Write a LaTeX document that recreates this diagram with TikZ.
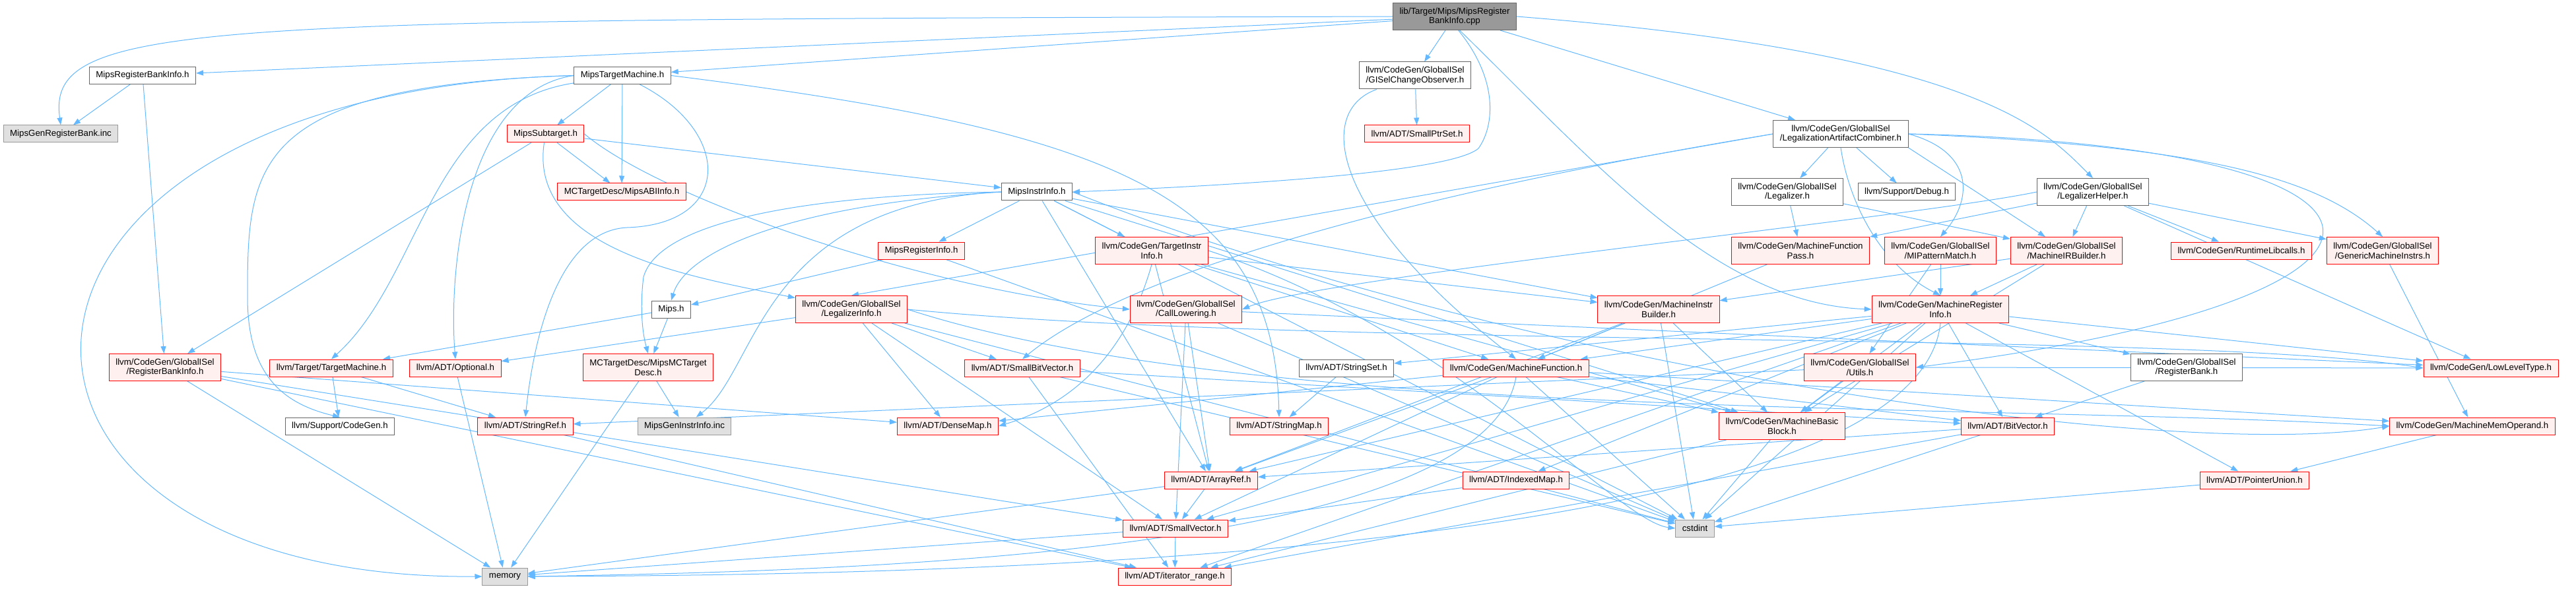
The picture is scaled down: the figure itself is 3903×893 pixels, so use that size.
\documentclass[tikz,border=0pt]{standalone}
\usepackage{fontspec}
\setmainfont{Liberation Sans}
\usetikzlibrary{arrows.meta,backgrounds}
\definecolor{cEdge}{HTML}{63B8FF}
\definecolor{cRed}{HTML}{FF0000}
\definecolor{cRedFill}{HTML}{FFF0F0}
\definecolor{cGray}{HTML}{999999}
\definecolor{cGrayFill}{HTML}{E0E0E0}
\definecolor{cDark}{HTML}{666666}
\tikzset{
  basebox/.style={rectangle,draw,line width=1pt,align=center,
                  font=\fontsize{13.3}{14.7}\selectfont,inner xsep=10pt,
                  inner ysep=3pt,minimum height=26pt},
  twoline/.style={minimum height=41pt},
  rootnode/.style={basebox,fill=cGray,draw=cDark},
  whitenode/.style={basebox,fill=white,draw=cDark},
  rednode/.style={basebox,fill=cRedFill,draw=cRed},
  sysnode/.style={basebox,fill=cGrayFill,draw=cGray},
  arr/.style={-{Triangle[length=11pt,width=8pt]},color=cEdge,line width=1pt}
}
\begin{document}
\begin{tikzpicture}[x=1pt,y=-1pt]
  \useasboundingbox (0,0) rectangle (3903,893);

  \node[rootnode,twoline] (root) at (2204,25) {lib/Target/Mips/MipsRegister\\BankInfo.cpp};

  \node[whitenode] (mrbih) at (216,114.5) {MipsRegisterBankInfo.h};
  \node[whitenode] (mtm) at (943,114.5) {MipsTargetMachine.h};
  \node[whitenode,twoline] (gcobs) at (2144,114.5) {llvm/CodeGen/GlobalISel\\/GISelChangeObserver.h};

  \node[sysnode] (mgrb) at (92,203) {MipsGenRegisterBank.inc};
  \node[rednode] (msub) at (826.5,203) {MipsSubtarget.h};
  \node[rednode] (sptr) at (2147,203) {llvm/ADT/SmallPtrSet.h};
  \node[whitenode,twoline] (lac) at (2789,203) {llvm/CodeGen/GlobalISel\\/LegalizationArtifactCombiner.h};

  \node[rednode] (abi) at (942,291) {MCTargetDesc/MipsABIInfo.h};
  \node[whitenode] (minstr) at (1571,291) {MipsInstrInfo.h};
  \node[whitenode,twoline] (legal) at (2708,291) {llvm/CodeGen/GlobalISel\\/Legalizer.h};
  \node[whitenode] (debug) at (2889,291) {llvm/Support/Debug.h};
  \node[whitenode,twoline] (lhelp) at (3171,291) {llvm/CodeGen/GlobalISel\\/LegalizerHelper.h};

  \node[rednode] (mreg) at (1396,380) {MipsRegisterInfo.h};
  \node[rednode,twoline] (tii) at (1745,380) {llvm/CodeGen/TargetInstr\\Info.h};
  \node[rednode,twoline] (mfp) at (2728,380) {llvm/CodeGen/MachineFunction\\Pass.h};
  \node[rednode,twoline] (mipm) at (2940,380) {llvm/CodeGen/GlobalISel\\/MIPatternMatch.h};
  \node[rednode,twoline] (mirb) at (3131,380) {llvm/CodeGen/GlobalISel\\/MachineIRBuilder.h};
  \node[rednode] (rtlib) at (3396,380) {llvm/CodeGen/RuntimeLibcalls.h};
  \node[rednode,twoline] (gmi) at (3610,380) {llvm/CodeGen/GlobalISel\\/GenericMachineInstrs.h};

  \node[whitenode] (mips) at (1017,469) {Mips.h};
  \node[rednode,twoline] (linfo) at (1290,469) {llvm/CodeGen/GlobalISel\\/LegalizerInfo.h};
  \node[rednode,twoline] (callow) at (1797,469) {llvm/CodeGen/GlobalISel\\/CallLowering.h};
  \node[rednode,twoline] (mib) at (2513,469) {llvm/CodeGen/MachineInstr\\Builder.h};
  \node[rednode,twoline] (mri) at (2940,469) {llvm/CodeGen/MachineRegister\\Info.h};

  \node[rednode,twoline] (rbi) at (250,557) {llvm/CodeGen/GlobalISel\\/RegisterBankInfo.h};
  \node[rednode] (tm) at (502,558) {llvm/Target/TargetMachine.h};
  \node[rednode] (opt) at (690,558) {llvm/ADT/Optional.h};
  \node[rednode,twoline] (mcdesc) at (982,557) {MCTargetDesc/MipsMCTarget\\Desc.h};
  \node[rednode] (sbv) at (1549,558) {llvm/ADT/SmallBitVector.h};
  \node[whitenode] (sset) at (2040,558) {llvm/ADT/StringSet.h};
  \node[rednode] (mf) at (2297,558) {llvm/CodeGen/MachineFunction.h};
  \node[rednode,twoline] (utils) at (2818,557) {llvm/CodeGen/GlobalISel\\/Utils.h};
  \node[whitenode,twoline] (rbank) at (3313,557) {llvm/CodeGen/GlobalISel\\/RegisterBank.h};
  \node[rednode] (llt) at (3774,558) {llvm/CodeGen/LowLevelType.h};

  \node[whitenode] (cgen) at (515,646) {llvm/Support/CodeGen.h};
  \node[rednode] (sref) at (796,646) {llvm/ADT/StringRef.h};
  \node[sysnode] (mgii) at (1037,646) {MipsGenInstrInfo.inc};
  \node[rednode] (dmap) at (1436,646) {llvm/ADT/DenseMap.h};
  \node[rednode] (smap) at (1938,646) {llvm/ADT/StringMap.h};
  \node[rednode,twoline] (mbb) at (2700,646) {llvm/CodeGen/MachineBasic\\Block.h};
  \node[rednode] (bitv) at (3042,646) {llvm/ADT/BitVector.h};
  \node[rednode] (mmo) at (3746,646) {llvm/CodeGen/MachineMemOperand.h};

  \node[rednode] (aref) at (1835,728) {llvm/ADT/ArrayRef.h};
  \node[rednode] (imap) at (2297,728) {llvm/ADT/IndexedMap.h};
  \node[rednode] (punion) at (3416,728) {llvm/ADT/PointerUnion.h};

  \node[rednode] (svec) at (1781,801) {llvm/ADT/SmallVector.h};
  \node[sysnode] (cstd) at (2568,801) {cstdint};

  \node[sysnode] (mem) at (765,874) {memory};
  \node[rednode] (irange) at (1780,874) {llvm/ADT/iterator\_range.h};

  \begin{scope}[on background layer]
    \path[arr] (root) edge (mrbih) edge (mtm) edge (gcobs) edge (lac);
    \draw[arr] (root.west) .. controls (300,30) and (70,30) .. (mgrb.north);
    \draw[arr] (root.-75) .. controls (2270,120) and (2265,190) .. (2240,225)
               .. controls (2200,260) and (1900,280) .. (minstr.east);
    \draw[arr] (root.east) .. controls (3000,80) and (3100,200) .. (lhelp.north);
    \draw[arr] (root.-70) .. controls (2420,250) and (2600,460) .. (mri.west);
    \path[arr] (mrbih) edge (mgrb) edge (rbi);
    \path[arr] (mtm) edge (msub) edge (abi);
    \draw[arr] (mtm.east) .. controls (1700,200) and (1930,300) .. (smap.north);
    \draw[arr] (mtm.west) .. controls (-100,140) and (-100,880) .. (mem.west);
    \draw[arr] (mtm.west) .. controls (380,130) and (375,250) .. (375,450)
               .. controls (375,560) and (420,610) .. (cgen.north);
    \draw[arr] (mtm.west) .. controls (700,140) and (680,420) .. (opt.north);
    \draw[arr] (mtm) .. controls (650,160) and (640,420) .. (tm.north);
    \draw[arr] (mtm) .. controls (1110,200) and (1110,340) .. (950,345)
               .. controls (850,350) and (810,500) .. (sref.north);
    \path[arr] (msub) edge (abi) edge (minstr) edge (rbi);
    \draw[arr] (msub) .. controls (800,380) and (1050,420) .. (linfo);
    \draw[arr] (msub.east) .. controls (1000,300) and (1400,440) .. (callow.west);
    \path[arr] (minstr) edge (mreg) edge (aref) edge (mbb) edge (mib)
                        edge (tii) edge (cstd);
    \draw[arr] (minstr.west) .. controls (1250,295) and (1000,330) .. (975,420)
               .. controls (970,460) and (972,500) .. (mcdesc.north);
    \draw[arr] (minstr.west) .. controls (1200,310) and (1040,380) .. (mips.north);
    \draw[arr] (minstr.west) .. controls (1150,310) and (1150,560) .. (mgii);
    \draw[arr] (minstr.east) .. controls (2300,560) and (3300,700) .. (mmo.west);
    \path[arr] (gcobs) edge (sptr);
    \draw[arr] (gcobs) .. controls (1990,170) and (2020,330) .. (mf.north);
    \path[arr] (lac) edge (legal) edge (debug);
    \path[arr] (lac.west) edge (linfo.north);
    \path[arr] (lac.south east) edge (mirb);
    \draw[arr] (lac.west) .. controls (2100,300) and (1700,420) .. (sbv.north);
    \draw[arr] (lac.south) .. controls (2800,300) and (2845,400) .. (mri.north);
    \draw[arr] (lac.east) .. controls (2990,230) and (2990,300) .. (mipm.north);
    \draw[arr] (lac.east) .. controls (3700,220) and (3750,450) .. (utils.east);
    \draw[arr] (lac.east) .. controls (3300,220) and (3500,260) .. (gmi.north);
    \path[arr] (lhelp) edge (gmi) edge (mirb) edge (llt) edge (mfp) edge (rtlib);
    \draw[arr] (lhelp.west) .. controls (2900,330) and (2000,420) .. (callow.east);
    \path[arr] (legal) edge (mfp) edge (mirb);
    \path[arr] (mreg) edge (mips) edge (cstd);
    \path[arr] (tii) edge (aref) edge (mbb) edge (mf) edge (mib);
    \draw[arr] (tii.south) .. controls (1700,560) and (1600,620) .. (dmap.east);
    \draw[arr] (tii.east) .. controls (2200,500) and (2450,790) .. (cstd.west);
    \path[arr] (mips) edge (mcdesc) edge (tm);
    \path[arr] (mcdesc) edge (mgii) edge (mem);
    \path[arr] (linfo) edge (opt) edge (dmap) edge (sbv) edge (svec) edge (cstd);
    \draw[arr] (linfo.east) .. controls (2000,530) and (3300,500) .. (llt.west);
    \draw[arr] (linfo.east) .. controls (1900,640) and (3000,610) .. (mmo.west);
    \path[arr] (callow) edge (aref) edge (svec) edge (llt) edge (cstd);
    \path[arr] (mib) edge (aref) edge (mf) edge (mbb) edge (cstd);
    \path[arr] (mirb) edge (mib) edge (mri) edge (mbb);
    \path[arr] (mri) edge (aref) edge (bitv) edge (imap) edge (punion)
                     edge (svec) edge (sset) edge (irange) edge (llt)
                     edge (mbb) edge (mf) edge (rbank) edge (cstd);
    \draw[arr] (mri.south) .. controls (2900,860) and (1300,872) .. (mem.east);
    \path[arr] (mf) edge (aref) edge (bitv) edge (dmap) edge (svec)
                    edge (mbb) edge (mmo) edge (cstd);
    \draw[arr] (mf.south) .. controls (2250,840) and (1300,866) .. (mem.east);
    \path[arr] (mbb) edge (irange) edge (cstd);
    \path[arr] (utils) edge (mbb) edge (sref) edge (llt);
    \path[arr] (mipm) edge (utils) edge (mri);
    \path[arr] (mfp) edge (mf);
    \path[arr] (gmi) edge (mmo);
    \path[arr] (rbank) edge (bitv);
    \path[arr] (mmo) edge (punion);
    \path[arr] (punion) edge (cstd);
    \path[arr] (bitv) edge (aref) edge (irange) edge (cstd);
    \path[arr] (sbv) edge (bitv) edge (irange) edge (cstd);
    \path[arr] (imap) edge (svec);
    \path[arr] (sset) edge (smap);
    \path[arr] (aref) edge (svec) edge (mem);
    \path[arr] (svec) edge (irange) edge (mem);
    \path[arr] (sref) edge (irange);
    \path[arr] (opt) edge (mem);
    \path[arr] (tm) edge (cgen) edge (sref);
    \path[arr] (rbi) edge (dmap) edge (svec) edge (irange) edge (mem);
  \end{scope}

\end{tikzpicture}
\end{document}
